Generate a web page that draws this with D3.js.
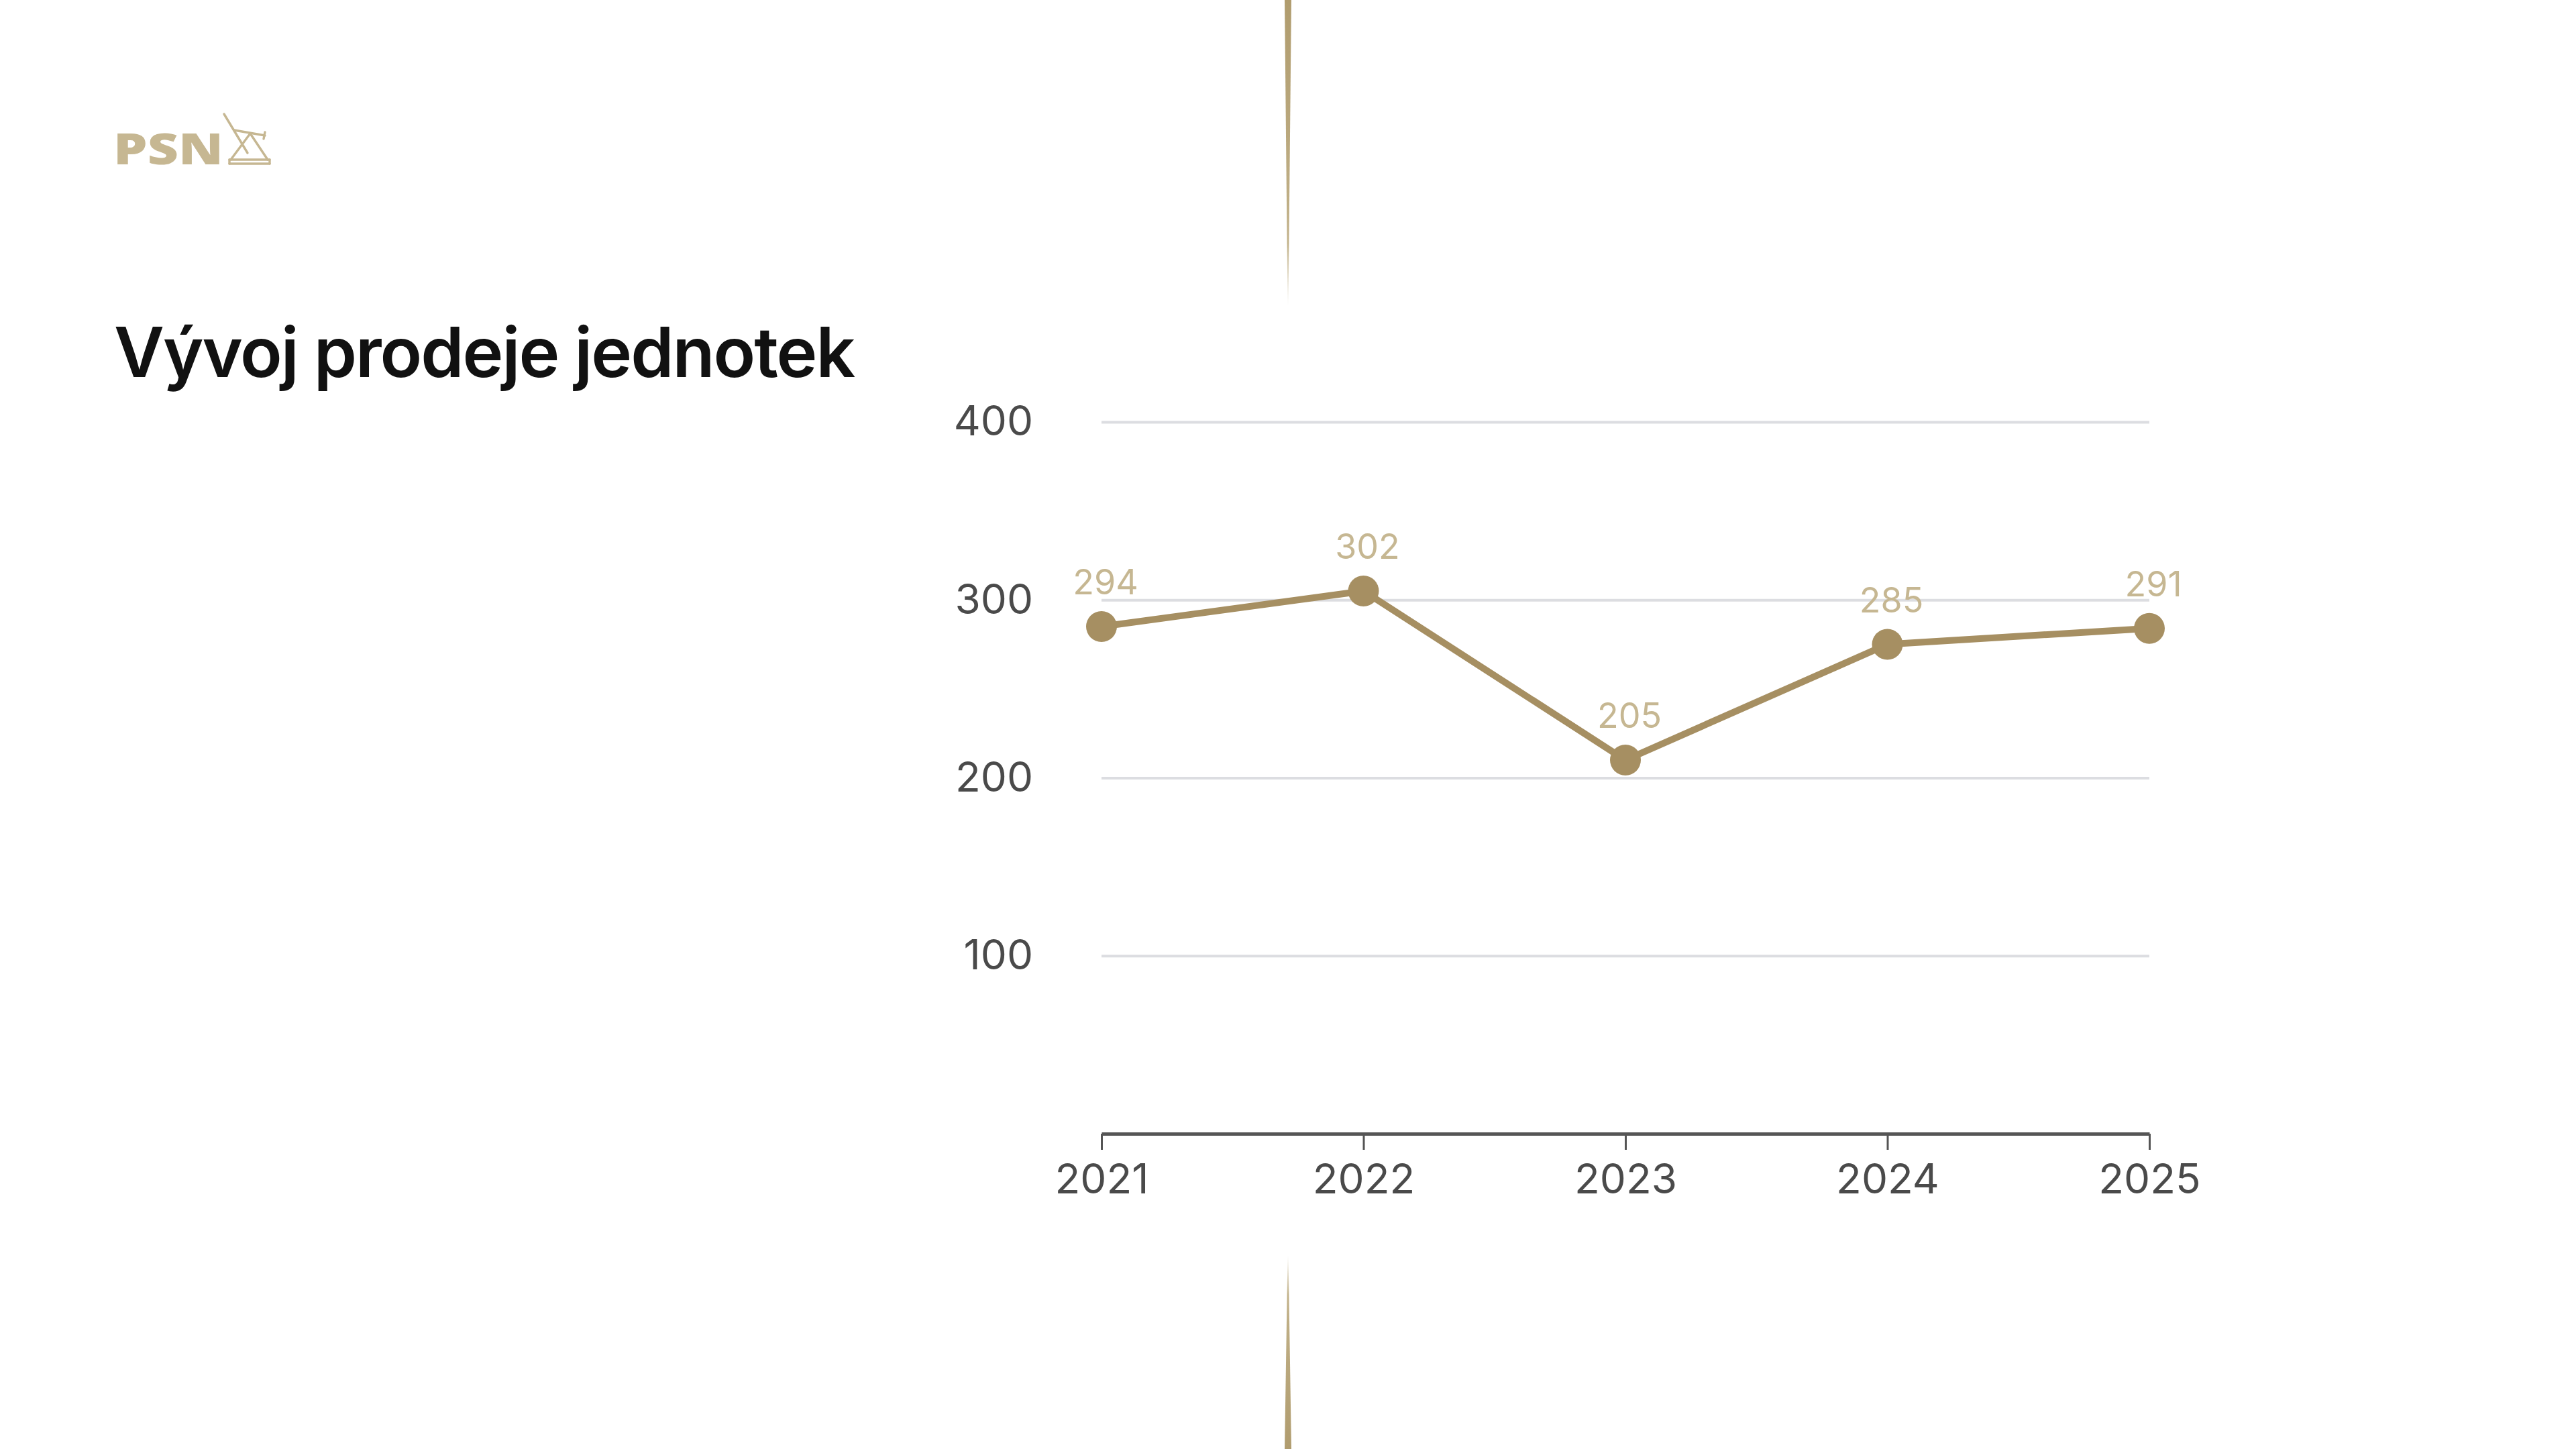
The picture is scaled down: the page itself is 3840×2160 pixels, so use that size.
<!DOCTYPE html>
<html>
<head>
<meta charset="utf-8">
<script src="https://cdn.jsdelivr.net/npm/d3@7"></script>
<style>
    html, body { margin: 0; padding: 0; background: #fff; }
    svg { display: block; }
    .axis text { font-family: Inter, 'Noto Sans', sans-serif; }
</style>
</head>
<body>
<div id="chart"></div>
<script>
// Data
const years = ['2021', '2022', '2023', '2024', '2025'];
// printed labels
const labelValues = [294, 302, 205, 285, 291];
// where the dots actually sit against the y axis
const plotValues = [285, 305, 210, 275, 284];
const yTicks = [100, 200, 300, 400];

const title = 'Vývoj prodeje jednotek';

const width = 3840;
const height = 2160;
const margin = { top: 629, right: 636, bottom: 470, left: 1642 };
const innerW = width - margin.left - margin.right;
const innerH = height - margin.top - margin.bottom;

const gold = '#a68f62';
const lightGold = '#c6b792';

const svg = d3.select('#chart')
    .append('svg')
    .attr('width', width)
    .attr('height', height)
    .attr('viewBox', `0 0 ${width} ${height}`);

// Tapered gold lines at the centre (top and bottom)
const defs = svg.append('defs');
const gradTop = defs.append('linearGradient')
    .attr('id', 'fadeTop').attr('x1', 0).attr('y1', 0).attr('x2', 0).attr('y2', 1);
gradTop.append('stop').attr('offset', '0%').attr('stop-color', '#b09c6e');
gradTop.append('stop').attr('offset', '80%').attr('stop-color', '#c2b28a');
gradTop.append('stop').attr('offset', '100%').attr('stop-color', '#ffffff');
const gradBottom = defs.append('linearGradient')
    .attr('id', 'fadeBottom').attr('x1', 0).attr('y1', 1).attr('x2', 0).attr('y2', 0);
gradBottom.append('stop').attr('offset', '0%').attr('stop-color', '#b09c6e');
gradBottom.append('stop').attr('offset', '80%').attr('stop-color', '#c2b28a');
gradBottom.append('stop').attr('offset', '100%').attr('stop-color', '#ffffff');

const cx = width / 2;
svg.append('path')
    .attr('d', `M${cx - 5},0 L${cx + 5},0 L${cx + 0.5},455 L${cx - 0.5},455 Z`)
    .attr('fill', 'url(#fadeTop)');
svg.append('path')
    .attr('d', `M${cx - 5},${height} L${cx + 5},${height} L${cx + 0.5},1872 L${cx - 0.5},1872 Z`)
    .attr('fill', 'url(#fadeBottom)');

// Logo
const logo = svg.append('g').attr('class', 'logo');
logo.append('text')
    .attr('x', 169)
    .attr('y', 245)
    .attr('font-family', "'Open Sans', 'Noto Sans', sans-serif")
    .attr('font-weight', 800)
    .attr('font-size', 64)
    .attr('textLength', 164)
    .attr('lengthAdjust', 'spacingAndGlyphs')
    .attr('fill', lightGold)
    .text('PSN');

const iconLines = [
    [334, 170, 369, 228],
    [349, 194, 395, 202],
    [395, 197, 393, 207],
    [373, 199, 344, 238],
    [373, 199, 399, 238],
    [342, 238, 402, 238],
    [342, 244, 402, 244],
    [342, 238, 342, 244],
    [402, 238, 402, 244]
];
logo.selectAll('line')
    .data(iconLines)
    .enter()
    .append('line')
    .attr('x1', d => d[0]).attr('y1', d => d[1])
    .attr('x2', d => d[2]).attr('y2', d => d[3])
    .attr('stroke', lightGold)
    .attr('stroke-width', 3.4)
    .attr('stroke-linecap', 'round');

// Title
svg.append('text')
    .attr('x', 170)
    .attr('y', 562)
    .attr('font-family', "Inter, 'Noto Sans', sans-serif")
    .attr('font-weight', 600)
    .attr('font-size', 103)
    .attr('letter-spacing', -2)
    .attr('fill', '#111')
    .text(title);

const g = svg.append('g')
    .attr('transform', `translate(${margin.left}, ${margin.top})`);

const x = d3.scalePoint()
    .domain(years)
    .range([0, innerW]);

const y = d3.scaleLinear()
    .domain([0, 400])
    .range([innerH, 0]);

// Gridlines + y labels
const yAxis = g.append('g')
    .attr('class', 'axis y-axis')
    .call(d3.axisLeft(y)
        .tickValues(yTicks)
        .tickSize(-innerW)
        .tickPadding(102));
yAxis.select('.domain').remove();
yAxis.selectAll('.tick line')
    .attr('stroke', '#dcdde1')
    .attr('stroke-width', 4);
yAxis.selectAll('.tick text')
    .attr('font-size', 62)
    .attr('fill', '#4a4a4a');

// X axis
const xAxis = g.append('g')
    .attr('class', 'axis x-axis')
    .attr('transform', `translate(0, ${innerH})`)
    .call(d3.axisBottom(x)
        .tickSizeInner(24)
        .tickSizeOuter(0)
        .tickPadding(21));
xAxis.select('.domain')
    .attr('stroke', '#555')
    .attr('stroke-width', 5);
xAxis.selectAll('.tick line')
    .attr('stroke', '#555')
    .attr('stroke-width', 3);
xAxis.selectAll('.tick text')
    .attr('font-size', 62)
    .attr('fill', '#4a4a4a');

// Line
const points = years.map((yr, i) => ({ year: yr, value: plotValues[i], label: labelValues[i] }));

const line = d3.line()
    .x(d => x(d.year))
    .y(d => y(d.value));

g.append('path')
    .datum(points)
    .attr('d', line)
    .attr('fill', 'none')
    .attr('stroke', gold)
    .attr('stroke-width', 10)
    .attr('stroke-linejoin', 'round');

g.selectAll('circle.dot')
    .data(points)
    .enter()
    .append('circle')
    .attr('class', 'dot')
    .attr('cx', d => x(d.year))
    .attr('cy', d => y(d.value))
    .attr('r', 23)
    .attr('fill', gold);

g.selectAll('text.value')
    .data(points)
    .enter()
    .append('text')
    .attr('class', 'value')
    .attr('x', d => x(d.year) + 6)
    .attr('y', d => y(d.value) - 48)
    .attr('text-anchor', 'middle')
    .attr('font-family', "Inter, 'Noto Sans', sans-serif")
    .attr('font-size', 52)
    .attr('fill', lightGold)
    .text(d => d.label);
</script>
</body>
</html>
